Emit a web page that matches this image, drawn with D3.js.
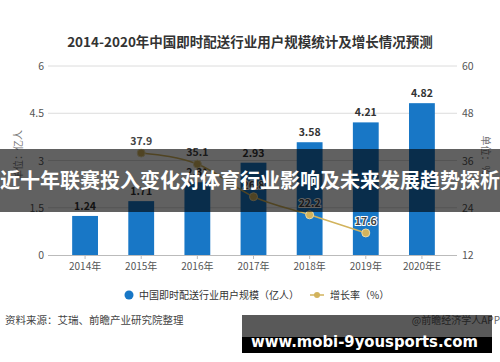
<!DOCTYPE html>
<html>
<head>
<meta charset="utf-8">
<script src="https://cdn.jsdelivr.net/npm/d3@7"></script>
<style>
  body { margin: 0; background: #fff; }
  svg { display: block; font-family: "Noto Sans CJK SC", "Noto Sans", sans-serif; }
</style>
</head>
<body>
<div id="chart"></div>
<script>
// data
const years = ["2014年", "2015年", "2016年", "2017年", "2018年", "2019年", "2020年E"];
const users = [1.24, 1.71, 2.31, 2.93, 3.58, 4.21, 4.82];
const growthYears = ["2015年", "2016年", "2017年", "2018年", "2019年"];
const growth = [37.9, 35.1, 26.8, 22.2, 17.6];
const leftTicks = [0, 1.5, 3, 4.5, 6];
const rightTicks = [12, 24, 36, 48, 60];

const width = 500, height = 362;
const svg = d3.select("#chart").append("svg")
    .attr("width", width)
    .attr("height", height);

// scales
const x = d3.scaleBand().domain(years).range([57, 450]).paddingInner(0.54).paddingOuter(0.27);
const y = d3.scaleLinear().domain([0, 6]).range([255, 66]);
const y2 = d3.scaleLinear().domain([12, 60]).range([255, 66]);
const cx = d => x(d) + x.bandwidth() / 2;

// title
svg.append("text")
    .attr("x", 250).attr("y", 47)
    .attr("text-anchor", "middle")
    .attr("font-size", 13.5).attr("font-weight", "bold").attr("fill", "#333")
    .text("2014-2020年中国即时配送行业用户规模统计及增长情况预测");

// grid lines
svg.append("g")
  .selectAll("line")
  .data(leftTicks.slice(1))
  .join("line")
    .attr("x1", 48).attr("x2", 457)
    .attr("y1", d => y(d)).attr("y2", d => y(d))
    .attr("stroke", "#dcdcdc");

// left axis labels
svg.append("g")
  .selectAll("text")
  .data(leftTicks)
  .join("text")
    .attr("x", 44).attr("y", d => y(d) + 4)
    .attr("text-anchor", "end")
    .attr("font-size", 10.5).attr("fill", "#555")
    .text(d => d);

// right axis labels
svg.append("g")
  .selectAll("text")
  .data(rightTicks)
  .join("text")
    .attr("x", 462).attr("y", d => y2(d) + 4)
    .attr("font-size", 10.5).attr("fill", "#555")
    .text(d => d);

// axis titles
svg.append("text")
    .attr("transform", "translate(22,155) rotate(-90)")
    .attr("text-anchor", "middle")
    .attr("font-size", 10).attr("fill", "#777")
    .text("单位：亿人");
svg.append("text")
    .attr("transform", "translate(482,155) rotate(90)")
    .attr("text-anchor", "middle")
    .attr("font-size", 10).attr("fill", "#777")
    .text("单位：%");

// bars
svg.append("g")
  .selectAll("rect")
  .data(users)
  .join("rect")
    .attr("x", (d, i) => x(years[i]))
    .attr("y", d => y(d))
    .attr("width", x.bandwidth())
    .attr("height", d => y(0) - y(d))
    .attr("fill", "#1877c6");

svg.append("g")
  .selectAll("text")
  .data(users)
  .join("text")
    .attr("x", (d, i) => cx(years[i]))
    .attr("y", d => y(d) - 6)
    .attr("text-anchor", "middle")
    .attr("font-size", 10.5).attr("font-weight", "bold").attr("fill", "#333")
    .text(d => d.toFixed(2));

// x axis
const xAxis = svg.append("g")
    .attr("transform", "translate(0,255)")
    .call(d3.axisBottom(x).tickSize(4).tickSizeOuter(0));
xAxis.select(".domain").attr("d", "M48,0.5H457").attr("stroke", "#bbb");
xAxis.selectAll(".tick line").attr("stroke", "#bbb");
xAxis.selectAll(".tick text")
    .attr("y", 8)
    .attr("font-size", 10).attr("fill", "#555")
    .attr("font-family", "'Noto Sans CJK SC', sans-serif");

// growth line
const line = d3.line()
    .x((d, i) => cx(growthYears[i]))
    .y(d => y2(d))
    .curve(d3.curveMonotoneX);

svg.append("path")
    .datum(growth)
    .attr("d", line)
    .attr("fill", "none")
    .attr("stroke", "#d2b35c")
    .attr("stroke-width", 1.5);

svg.append("g")
  .selectAll("circle")
  .data(growth)
  .join("circle")
    .attr("cx", (d, i) => cx(growthYears[i]))
    .attr("cy", d => y2(d))
    .attr("r", 4)
    .attr("fill", "#d2b35c")
    .attr("stroke", "#e8d9a8");

svg.append("g")
  .selectAll("text")
  .data(growth)
  .join("text")
    .attr("x", (d, i) => cx(growthYears[i]))
    .attr("y", d => y2(d) - 8)
    .attr("text-anchor", "middle")
    .attr("font-size", 10.5).attr("font-weight", "bold").attr("fill", "#444")
    .attr("stroke", "#fff").attr("stroke-width", 2).attr("paint-order", "stroke")
    .text(d => d);

// legend
const lg = svg.append("g").attr("transform", "translate(0,295)");
lg.append("circle").attr("cx", 129).attr("cy", 0).attr("r", 4.5).attr("fill", "#1877c6");
lg.append("text").attr("x", 139).attr("y", 4)
    .attr("font-size", 10).attr("fill", "#333")
    .text("中国即时配送行业用户规模（亿人）");
lg.append("line").attr("x1", 310).attr("x2", 324).attr("y1", 0).attr("y2", 0)
    .attr("stroke", "#d2b35c").attr("stroke-width", 1.5);
lg.append("circle").attr("cx", 317).attr("cy", 0).attr("r", 3).attr("fill", "#d2b35c");
lg.append("text").attr("x", 330).attr("y", 4)
    .attr("font-size", 10).attr("fill", "#333")
    .text("增长率（%）");

// source notes
svg.append("text").attr("x", 5).attr("y", 324)
    .attr("font-size", 10.5).attr("fill", "#444")
    .text("资料来源：艾瑞、前瞻产业研究院整理");
svg.append("text").attr("x", 500).attr("y", 324)
    .attr("text-anchor", "end")
    .attr("font-size", 10).attr("fill", "#666")
    .text("@前瞻经济学人APP");

// overlay banner
svg.append("rect")
    .attr("x", 0).attr("y", 149).attr("width", 500).attr("height", 63)
    .attr("fill", "#000").attr("opacity", 0.62);
svg.append("text")
    .attr("x", 250).attr("y", 188)
    .attr("text-anchor", "middle")
    .attr("font-size", 20).attr("font-weight", "bold").attr("fill", "#fff")
    .text("近十年联赛投入变化对体育行业影响及未来发展趋势探析");

// url banner
svg.append("rect")
    .attr("x", 242).attr("y", 315).attr("width", 250).attr("height", 38)
    .attr("fill", "#000").attr("opacity", 0.65);
svg.append("rect")
    .attr("x", 242).attr("y", 337).attr("width", 250).attr("height", 16)
    .attr("fill", "#000");
svg.append("text")
    .attr("x", 251).attr("y", 347)
    .attr("font-size", 16).attr("font-weight", "bold").attr("fill", "#fff")
    .attr("font-family", "'DejaVu Sans', sans-serif")
    .attr("textLength", 227).attr("lengthAdjust", "spacingAndGlyphs")
    .text("www.mobi-9yousports.com");
</script>
</body>
</html>
